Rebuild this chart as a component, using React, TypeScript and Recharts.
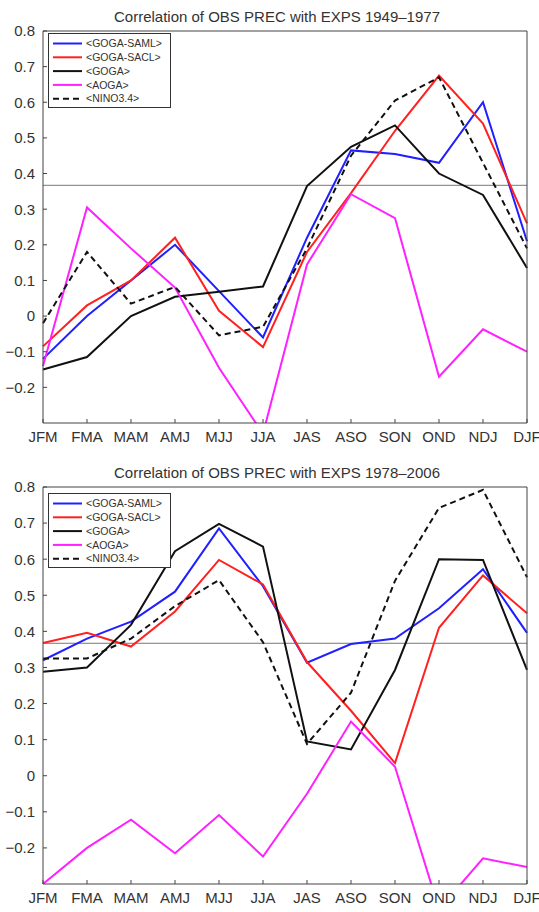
import React from "react";
import { LineChart, Line, XAxis, YAxis, ReferenceLine } from "recharts";

const SEASONS = ["JFM", "FMA", "MAM", "AMJ", "MJJ", "JJA", "JAS", "ASO", "SON", "OND", "NDJ", "DJF"];
const Y_TICKS = [-0.2, -0.1, 0, 0.1, 0.2, 0.3, 0.4, 0.5, 0.6, 0.7, 0.8];
const SIG_LEVEL = 0.367;

// 1949-1977
const SAML_1 = [-0.12, 0.0, 0.1, 0.2, 0.07, -0.06, 0.22, 0.465, 0.455, 0.43, 0.6, 0.21];
const SACL_1 = [-0.085, 0.03, 0.1, 0.22, 0.015, -0.087, 0.18, 0.345, 0.52, 0.675, 0.54, 0.26];
const GOGA_1 = [-0.15, -0.115, 0.0, 0.054, 0.068, 0.083, 0.365, 0.475, 0.535, 0.4, 0.34, 0.135];
const AOGA_1 = [-0.14, 0.305, 0.19, 0.08, -0.145, -0.33, 0.145, 0.342, 0.275, -0.17, -0.037, -0.1];
const NINO_1 = [-0.02, 0.18, 0.035, 0.082, -0.054, -0.03, 0.19, 0.45, 0.605, 0.67, 0.43, 0.19];

// 1978-2006
const SAML_2 = [0.32, 0.38, 0.427, 0.51, 0.685, 0.525, 0.313, 0.365, 0.38, 0.464, 0.572, 0.396];
const SACL_2 = [0.368, 0.396, 0.358, 0.455, 0.598, 0.53, 0.315, 0.18, 0.035, 0.41, 0.555, 0.45];
const GOGA_2 = [0.288, 0.3, 0.418, 0.622, 0.698, 0.635, 0.095, 0.073, 0.293, 0.6, 0.598, 0.293];
const AOGA_2 = [-0.3, -0.2, -0.122, -0.215, -0.109, -0.224, -0.05, 0.15, 0.025, -0.37, -0.229, -0.253];
const NINO_2 = [0.325, 0.325, 0.38, 0.47, 0.542, 0.37, 0.088, 0.23, 0.54, 0.742, 0.792, 0.55];

const SERIES = [
  { key: "saml", name: "<GOGA-SAML>", color: "#1f1fff", dash: undefined },
  { key: "sacl", name: "<GOGA-SACL>", color: "#ff2020", dash: undefined },
  { key: "goga", name: "<GOGA>", color: "#111111", dash: undefined },
  { key: "aoga", name: "<AOGA>", color: "#ff20ff", dash: undefined },
  { key: "nino", name: "<NINO3.4>", color: "#111111", dash: "6 4" },
];

const FONT = '"Liberation Sans", Arial, Helvetica, sans-serif';
const AXIS_COLOR = "#444";

const buildRows = (saml: number[], sacl: number[], goga: number[], aoga: number[], nino: number[]) =>
  SEASONS.map((season, i) => ({
    season,
    saml: saml[i],
    sacl: sacl[i],
    goga: goga[i],
    aoga: aoga[i],
    nino: nino[i],
  }));

const fmtY = (v: number) => {
  if (Math.abs(v) < 1e-9) return "0";
  const s = Math.abs(v).toFixed(1);
  return v < 0 ? "\u2212" + s : s;
};

const Legend: React.FC<{ top: number }> = ({ top }) => (
  <div
    style={{
      position: "absolute",
      left: 48,
      top,
      width: 123,
      height: 75,
      border: "1px solid #333",
      background: "#fff",
      boxSizing: "border-box",
    }}
  >
    <svg width={121} height={73}>
      {SERIES.map((s, i) => {
        const y = 9.5 + i * 13.8;
        return (
          <g key={s.key}>
            <line x1={4} x2={33} y1={y} y2={y} stroke={s.color} strokeWidth={2} strokeDasharray={s.dash} />
            <text x={37} y={y + 3.6} fontSize={10.5} fontFamily={FONT} fill="#333">
              {s.name}
            </text>
          </g>
        );
      })}
    </svg>
  </div>
);

interface ChartProps {
  title: string;
  rows: ReturnType<typeof buildRows>;
  top: number;
  height: number;
  plotHeight: number;
  legendTop: number;
}

const CorrChart: React.FC<ChartProps> = ({ title, rows, top, height, plotHeight, legendTop }) => (
  <div style={{ position: "absolute", left: 0, top, width: 539, height }}>
    <LineChart
      width={539}
      height={height}
      data={rows}
      margin={{ top: 30, right: 11, bottom: 2, left: 8 }}
    >
      <XAxis
        dataKey="season"
        interval={0}
        height={height - 31 - 2 - plotHeight}
        stroke={AXIS_COLOR}
        tickSize={-4}
        tickMargin={12}
        tick={{ fill: "#333", fontSize: 15, fontFamily: FONT }}
      />
      <XAxis
        xAxisId="top"
        orientation="top"
        dataKey="season"
        interval={0}
        height={1}
        stroke={AXIS_COLOR}
        tickSize={-4}
        tick={false}
      />
      <YAxis
        width={35}
        domain={[-0.3, 0.8]}
        ticks={Y_TICKS}
        allowDataOverflow
        interval={0}
        stroke={AXIS_COLOR}
        tickSize={-4}
        tickMargin={12}
        tickFormatter={fmtY}
        tick={{ fill: "#333", fontSize: 15, fontFamily: FONT }}
      />
      <YAxis
        yAxisId="r"
        orientation="right"
        width={1}
        domain={[-0.3, 0.8]}
        ticks={Y_TICKS}
        allowDataOverflow
        interval={0}
        stroke={AXIS_COLOR}
        tickSize={-4}
        tick={false}
      />
      <ReferenceLine y={SIG_LEVEL} stroke="#777" strokeWidth={1} />
      {SERIES.map((s) => (
        <Line
          key={s.key}
          dataKey={s.key}
          name={s.name}
          type="linear"
          stroke={s.color}
          strokeWidth={2}
          strokeDasharray={s.dash}
          dot={false}
          activeDot={false}
          isAnimationActive={false}
        />
      ))}
    </LineChart>
    <div
      style={{
        position: "absolute",
        left: 0,
        top: 8,
        width: 554,
        textAlign: "center",
        fontSize: 15,
        fontFamily: FONT,
        color: "#333",
        lineHeight: "17px",
        whiteSpace: "nowrap",
      }}
    >
      {title}
    </div>
    <Legend top={legendTop} />
  </div>
);

export default function App() {
  const early = buildRows(SAML_1, SACL_1, GOGA_1, AOGA_1, NINO_1);
  const late = buildRows(SAML_2, SACL_2, GOGA_2, AOGA_2, NINO_2);
  return (
    <div style={{ position: "absolute", left: 0, top: 0, width: 539, height: 912, background: "#fff", overflow: "hidden" }}>
      <CorrChart title="Correlation of OBS PREC with EXPS 1949–1977" rows={early} top={0} height={450} plotHeight={392} legendTop={33} />
      <CorrChart title="Correlation of OBS PREC with EXPS 1978–2006" rows={late} top={456} height={456} plotHeight={397} legendTop={37} />
    </div>
  );
}
